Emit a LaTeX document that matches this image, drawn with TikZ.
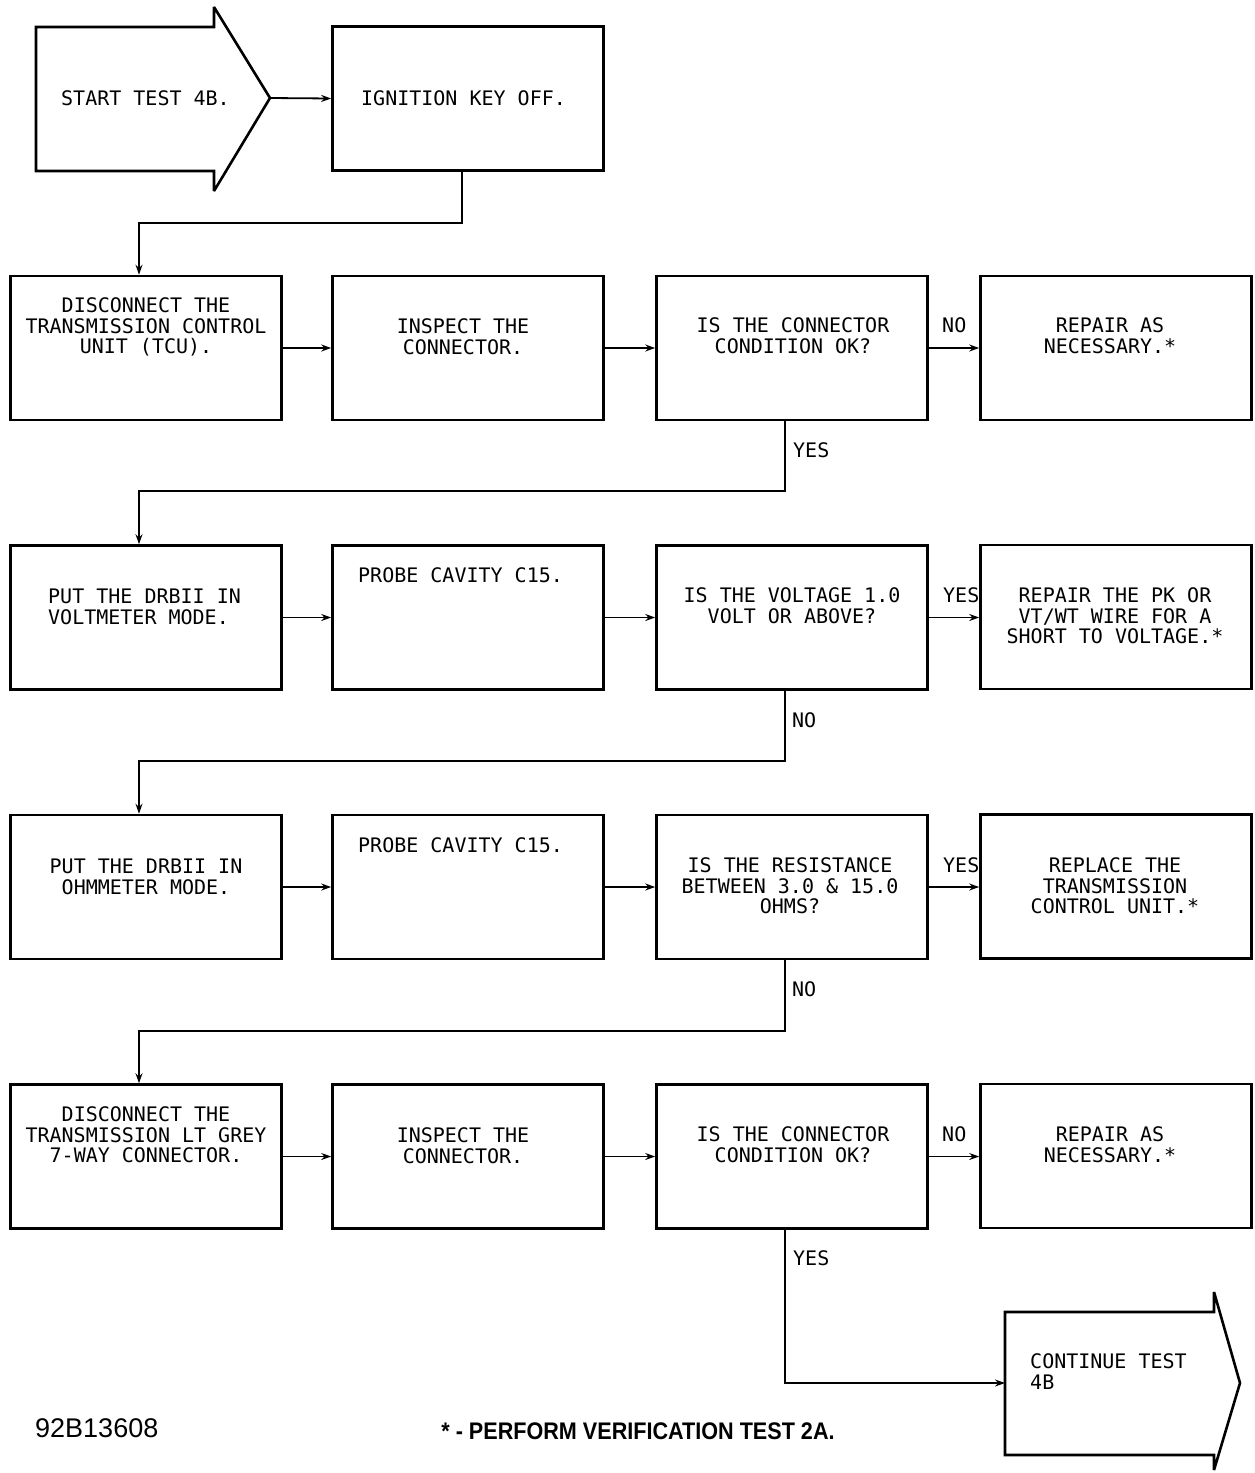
\documentclass[tikz,border=0pt]{standalone}
\usepackage{fontspec}
\setmainfont{Liberation Sans}
\newfontfamily\flowfont{DejaVu Sans Mono}
\usetikzlibrary{arrows.meta}
\newcommand\mlc[1]{\parbox[t]{320pt}{\centering #1}}
\newcommand\mll[1]{\parbox[t]{320pt}{\raggedright #1}}
\begin{document}
\begin{tikzpicture}[x=1pt,y=-1pt,
  box/.style={draw,line width=2.6pt,minimum width=271pt,minimum height=144pt,inner sep=0pt},
  bigarrow/.style={draw,line width=2.6pt,line join=miter,miter limit=1.5},
  conn/.style={line width=1.8pt,-{Stealth[length=10pt,width=7pt]}},
  txt/.style={inner sep=0pt,anchor=base,font=\flowfont\fontsize{20}{20.5}\selectfont},
  lbl/.style={inner sep=0pt,anchor=base west,font=\flowfont\fontsize{20}{20.5}\selectfont}]
\useasboundingbox (0,0) rectangle (1254,1473);

% start arrow
\draw[bigarrow] (36,27) -- (214,27) -- (214,7) -- (270,98) -- (214,191) -- (214,171) -- (36,171) -- cycle;
\coordinate (stip) at (270,98);
\node[lbl] (tst) at (61,105.5) {START TEST 4B.};

% ignition
\node[box] (ig) at (468,98.5) {};
\node[lbl] (tig) at (361,105.5) {IGNITION KEY OFF.};

% row 1
\node[box] (a1) at (146,348) {};
\node[box] (b1) at (468,348) {};
\node[box] (c1) at (792,348) {};
\node[box] (d1) at (1116,348) {};
\node[txt] (ta1) at (146,312.5) {\mlc{DISCONNECT THE\\TRANSMISSION CONTROL\\UNIT (TCU).}};
\node[txt] (tb1) at (463,333.5) {\mlc{INSPECT THE\\CONNECTOR.}};
\node[txt] (tc1) at (793,332.5) {\mlc{IS THE CONNECTOR\\CONDITION OK?}};
\node[txt] (td1) at (1110,332.5) {\mlc{REPAIR AS\\NECESSARY.*}};

% row 2
\node[box] (a2) at (146,617.5) {};
\node[box] (b2) at (468,617.5) {};
\node[box] (c2) at (792,617.5) {};
\node[box] (d2) at (1116,617) {};
\node[lbl] (ta2) at (48,603.5) {\mll{PUT THE DRBII IN\\VOLTMETER MODE.}};
\node[lbl] (tb2) at (358,582.5) {PROBE CAVITY C15.};
\node[txt] (tc2) at (792,602.5) {\mlc{IS THE VOLTAGE 1.0\\VOLT OR ABOVE?}};
\node[txt] (td2) at (1115,602.5) {\mlc{REPAIR THE PK OR\\VT/WT WIRE FOR A\\SHORT TO VOLTAGE.*}};

% row 3
\node[box] (a3) at (146,887) {};
\node[box] (b3) at (468,887) {};
\node[box] (c3) at (792,887) {};
\node[box] (d3) at (1116,886.5) {};
\node[txt] (ta3) at (146,873.5) {\mlc{PUT THE DRBII IN\\OHMMETER MODE.}};
\node[lbl] (tb3) at (358,852.5) {PROBE CAVITY C15.};
\node[txt] (tc3) at (790,872.5) {\mlc{IS THE RESISTANCE\\BETWEEN 3.0 \& 15.0\\OHMS?}};
\node[txt] (td3) at (1115,872.5) {\mlc{REPLACE THE\\TRANSMISSION\\CONTROL UNIT.*}};

% row 4
\node[box] (a4) at (146,1156.5) {};
\node[box] (b4) at (468,1156.5) {};
\node[box] (c4) at (792,1156.5) {};
\node[box] (d4) at (1116,1156) {};
\node[txt] (ta4) at (146,1121.5) {\mlc{DISCONNECT THE\\TRANSMISSION LT GREY\\7-WAY CONNECTOR.}};
\node[txt] (tb4) at (463,1142.5) {\mlc{INSPECT THE\\CONNECTOR.}};
\node[txt] (tc4) at (793,1141.5) {\mlc{IS THE CONNECTOR\\CONDITION OK?}};
\node[txt] (td4) at (1110,1141.5) {\mlc{REPAIR AS\\NECESSARY.*}};

% continue arrow
\draw[bigarrow] (1005,1312) -- (1214,1312) -- (1214,1292) -- (1240,1383) -- (1214,1470) -- (1214,1455) -- (1005,1455) -- cycle;
\coordinate (ctw) at (1005,1383);
\node[lbl] (tct) at (1030,1368.5) {\mll{CONTINUE TEST\\4B}};

% bend coordinates
\coordinate (lx) at (139,0);
\coordinate (j0) at (462,223);
\coordinate (j1) at (785,491);
\coordinate (j2) at (785,761);
\coordinate (j3) at (785,1031);
\coordinate (j4) at (785,1383);

% connectors
\draw[conn] (stip) -- (ig.west);
\draw[conn] (ig.south -| j0) -- (j0) -| (a1.north -| lx);
\draw[conn] (a1.east) -- (b1.west);
\draw[conn] (b1.east) -- (c1.west);
\draw[conn] (c1.east) -- (d1.west);
\draw[conn] (c1.south -| j1) -- (j1) -| (a2.north -| lx);
\draw[conn] (a2.east) -- (b2.west);
\draw[conn] (b2.east) -- (c2.west);
\draw[conn] (c2.east) -- (d2.west |- c2.east);
\draw[conn] (c2.south -| j2) -- (j2) -| (a3.north -| lx);
\draw[conn] (a3.east) -- (b3.west);
\draw[conn] (b3.east) -- (c3.west);
\draw[conn] (c3.east) -- (d3.west |- c3.east);
\draw[conn] (c3.south -| j3) -- (j3) -| (a4.north -| lx);
\draw[conn] (a4.east) -- (b4.west);
\draw[conn] (b4.east) -- (c4.west);
\draw[conn] (c4.east) -- (d4.west |- c4.east);
\draw[conn] (c4.south -| j4) -- (j4) -- (ctw);

% connector labels
\node[lbl] (l1) at (942,332.5) {NO};
\node[lbl] (l2) at (793,457.5) {YES};
\node[lbl] (l3) at (943,602.5) {YES};
\node[lbl] (l4) at (792,727.5) {NO};
\node[lbl] (l5) at (943,872.5) {YES};
\node[lbl] (l6) at (792,996.5) {NO};
\node[lbl] (l7) at (942,1141.5) {NO};
\node[lbl] (l8) at (793,1265.5) {YES};

% footer
\node[inner sep=0pt,anchor=base west,font=\fontsize{27}{29}\selectfont] (fid) at (35,1437) {92B13608};
\node[inner sep=0pt,anchor=base,font=\bfseries\fontsize{24}{26}\selectfont] (fnote) at (638,1439) {\scalebox{0.9}[1]{* - PERFORM VERIFICATION TEST 2A.}};
\end{tikzpicture}
\end{document}
